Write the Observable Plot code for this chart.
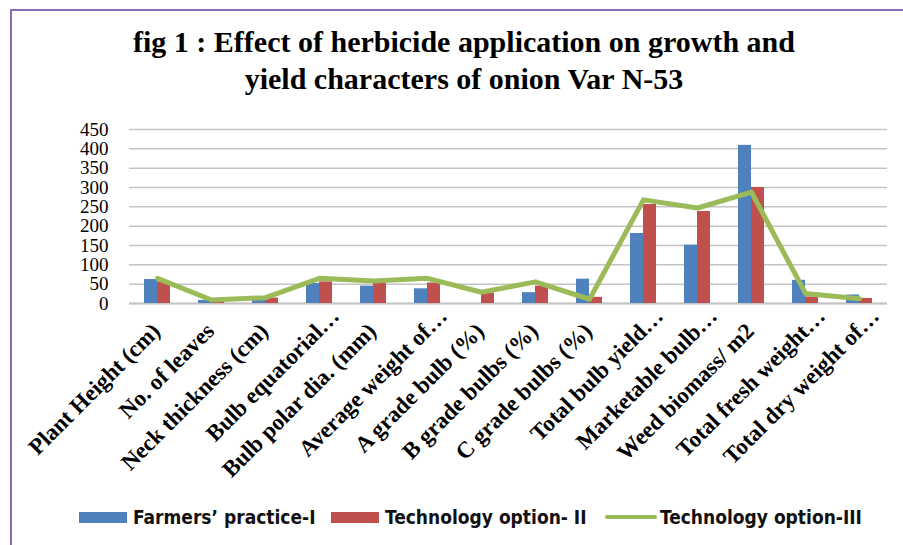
<!DOCTYPE html>
<html>
<head>
<meta charset="utf-8">
<script src="https://cdn.jsdelivr.net/npm/d3@7"></script>
<script src="https://cdn.jsdelivr.net/npm/@observablehq/plot@0.6"></script>
<style>
  html, body { margin: 0; padding: 0; background: #fff; }
  #wrap { position: relative; width: 903px; height: 545px; overflow: hidden; background: #fff; }
  #frame { position: absolute; left: 10px; top: 9px; width: 950px; height: 600px;
           border-left: 2.5px solid #8a6db5; border-top: 2.5px solid #8a6db5; box-sizing: border-box; }
  #title { height: 100px; box-sizing: border-box; padding-top: 23px; padding-left: 25px;
           font-family: "Liberation Serif", "Times New Roman", serif; font-weight: bold;
           font-size: 30px; line-height: 37px; text-align: center; color: #000; white-space: nowrap; }
  #chart svg { display: block; }
  #legend { position: relative; height: 62px; font-family: "Liberation Sans Narrow", "Arial Narrow", "DejaVu Sans Condensed", sans-serif;
            font-weight: bold; font-size: 19px; color: #111; }
  .item { position: absolute; top: 22px; display: flex; align-items: center; height: 24px; white-space: nowrap; }
  .sw { width: 48px; height: 11px; margin-right: 6px; }
  .ln { width: 52px; height: 4px; border-radius: 2px; margin-right: 3px; }
</style>
</head>
<body>
<div id="wrap">
  <div id="frame"></div>
  <div id="title">fig 1 : Effect of herbicide application on growth and<br>yield characters of onion Var N-53</div>
  <div id="chart"></div>
  <div id="legend"></div>
</div>
<script>
const categories = [
  "Plant Height (cm)", "No. of leaves", "Neck thickness (cm)", "Bulb equatorial…",
  "Bulb polar dia. (mm)", "Average weight of…", "A grade bulb (%)", "B grade bulbs (%)",
  "C grade bulbs (%)", "Total bulb yield…", "Marketable bulb…", "Weed biomass/ m2",
  "Total fresh weight…", "Total dry weight of…"
];
const seriesNames = ["Farmers’ practice-I", "Technology option- II", "Technology option-III"];
const farmersPractice = [62, 8, 10, 52, 45, 38, 0, 28, 63, 181, 151, 409, 60, 22];
const techOption2     = [56, 6, 14, 56, 52, 53, 27, 45, 16, 256, 238, 300, 17, 13];
const techOption3     = [65, 9, 15, 65, 58, 65, 29, 56, 11, 268, 247, 288, 26, 12];
const yTicks = [0, 50, 100, 150, 200, 250, 300, 350, 400, 450];
const colors = ["#4F81BD", "#C0504D", "#9BBB59"];

const rows = categories.map((c, i) => ({cat: c, a: farmersPractice[i], b: techOption2[i], c3: techOption3[i]}));
const serif = "Liberation Serif, Times New Roman, serif";

const chart = Plot.plot({
  width: 903,
  height: 383,
  marginTop: 29,
  marginBottom: 180,
  marginLeft: 129,
  marginRight: 16,
  style: {background: "transparent", overflow: "visible"},
  x: {domain: categories, paddingInner: 0.52, paddingOuter: 0.26, axis: null},
  y: {domain: [0, 450], axis: null},
  marks: [
    Plot.gridY(yTicks, {stroke: "#c4c4c4", strokeOpacity: 1, strokeWidth: 1.5}),
    Plot.ruleY([0], {stroke: "#c4c4c4", strokeWidth: 2}),
    Plot.axisY(yTicks, {tickSize: 0, tickPadding: 21, fontSize: 19, fontFamily: serif, fill: "#000"}),
    Plot.barY(rows, {x: "cat", y: "a", fill: colors[0], insetLeft: 0, insetRight: 13}),
    Plot.barY(rows, {x: "cat", y: "b", fill: colors[1], insetLeft: 13, insetRight: 0}),
    Plot.line(rows, {x: "cat", y: "c3", stroke: colors[2], strokeWidth: 5, strokeLinejoin: "round", strokeLinecap: "round"}),
    Plot.text(categories.filter(c => !c.endsWith("…")), {
      x: d => d, frameAnchor: "bottom", rotate: -45, textAnchor: "end", lineAnchor: "bottom",
      dx: 4, dy: 29, fontSize: 23, fontWeight: "bold", fontFamily: serif, fill: "#000"
    }),
    Plot.text(categories.filter(c => c.endsWith("…")), {
      x: d => d, frameAnchor: "bottom", rotate: -45, textAnchor: "end", lineAnchor: "bottom",
      dx: 21, dy: 14, fontSize: 23, fontWeight: "bold", fontFamily: serif, fill: "#000"
    })
  ]
});
document.getElementById("chart").appendChild(chart);

const legend = document.getElementById("legend");
const lefts = [79, 331, 605];
seriesNames.forEach((name, i) => {
  const item = document.createElement("div");
  item.className = "item";
  item.style.left = lefts[i] + "px";
  const sw = document.createElement("span");
  sw.className = i === 2 ? "ln" : "sw";
  sw.style.background = colors[i];
  const tx = document.createElement("span");
  tx.textContent = name;
  item.appendChild(sw);
  item.appendChild(tx);
  legend.appendChild(item);
});
</script>
</body>
</html>
